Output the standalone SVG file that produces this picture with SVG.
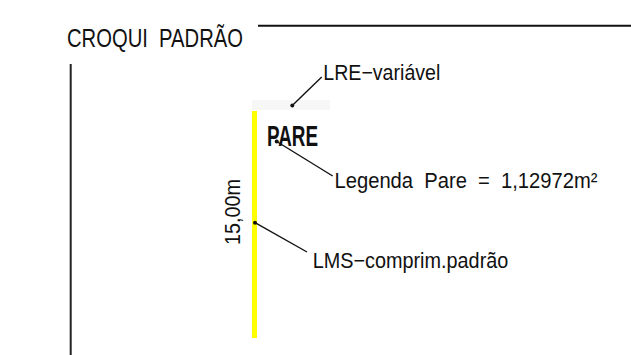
<svg xmlns="http://www.w3.org/2000/svg" width="631" height="355" viewBox="0 0 631 355">
  <style>
    .t { font-family: "Liberation Sans", Arial, sans-serif; fill: #111; white-space: pre; }
    .lead { stroke: #111; stroke-width: 1.4; fill: none; }
    .dot { fill: #111; }
  </style>
  <rect width="631" height="355" fill="#ffffff"/>
  <g id="frame">
    <text class="t" x="67" y="46.5" font-size="25.5" textLength="176" lengthAdjust="spacingAndGlyphs" xml:space="preserve">CROQUI  PADRÃO</text>
    <line x1="258" y1="25.7" x2="631" y2="25.7" stroke="#111" stroke-width="2"/>
    <line x1="70.7" y1="64" x2="70.7" y2="355" stroke="#222" stroke-width="2"/>
  </g>
  <g id="lre-strip">
    <rect x="252" y="100" width="78" height="10" fill="#f7f7f7"/>
  </g>
  <g id="lms-line">
    <rect x="252" y="111" width="5" height="227" fill="#ffff00"/>
  </g>
  <g id="pare">
    <text class="t" x="267" y="146" font-size="29" font-weight="bold" textLength="51" lengthAdjust="spacingAndGlyphs">PARE</text>
  </g>
  <g id="dimension">
    <text class="t" transform="translate(240,245) rotate(-90)" x="0" y="0" font-size="21.5" textLength="66" lengthAdjust="spacingAndGlyphs">15,00m</text>
  </g>
  <g id="connectors">
    <circle class="dot" cx="292.3" cy="105.5" r="2"/>
    <line class="lead" x1="292.3" y1="105.5" x2="321.7" y2="77"/>
    <circle class="dot" cx="276.7" cy="141.5" r="2"/>
    <line class="lead" x1="276.7" y1="141.5" x2="332.7" y2="176"/>
    <circle class="dot" cx="255" cy="222.7" r="2"/>
    <line class="lead" x1="255" y1="222.7" x2="307" y2="252"/>
  </g>
  <g id="label-lre">
    <text class="t" x="323.3" y="80" font-size="22" textLength="117" lengthAdjust="spacingAndGlyphs">LRE−variável</text>
  </g>
  <g id="label-legenda">
    <text class="t" x="334.5" y="188.3" font-size="21.5" textLength="263" lengthAdjust="spacingAndGlyphs" xml:space="preserve">Legenda  Pare  =  1,12972m²</text>
  </g>
  <g id="label-lms">
    <text class="t" x="312.7" y="268.3" font-size="21.5" textLength="195.6" lengthAdjust="spacingAndGlyphs">LMS−comprim.padrão</text>
  </g>
</svg>
